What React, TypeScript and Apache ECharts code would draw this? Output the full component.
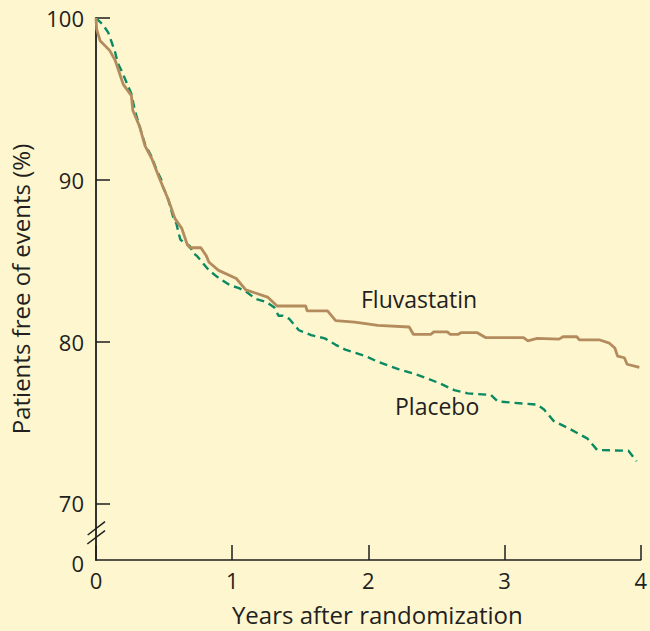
import React, { useEffect, useRef } from "react";
import * as echarts from "echarts";

const xTicks = [0, 1, 2, 3, 4];
const yTickValues = [66.5, 70, 80, 90, 100];
const yTickLabels = ["0", "70", "80", "90", "100"];

const fluvastatin: [number, number][] = [
  [0, 100], [0.005, 99.3], [0.03, 98.6], [0.1, 98.0], [0.14, 97.4], [0.2, 95.9], [0.26, 95.2],
  [0.27, 94.3], [0.32, 93.3], [0.36, 92.1], [0.41, 91.3], [0.47, 90.0], [0.53, 88.8], [0.58, 87.6],
  [0.63, 87.0], [0.67, 86.0], [0.69, 85.8], [0.77, 85.8], [0.81, 85.3], [0.83, 84.9], [0.9, 84.4],
  [1.03, 83.9], [1.1, 83.2], [1.17, 83.0], [1.26, 82.75], [1.33, 82.2], [1.54, 82.2], [1.55, 81.9],
  [1.7, 81.9], [1.76, 81.3], [1.9, 81.2], [2.07, 81.0], [2.3, 80.9], [2.33, 80.45], [2.46, 80.45],
  [2.48, 80.6], [2.58, 80.6], [2.6, 80.45], [2.66, 80.45], [2.68, 80.55], [2.8, 80.55], [2.86, 80.25],
  [3.14, 80.25], [3.17, 80.05], [3.24, 80.2], [3.4, 80.15], [3.43, 80.3], [3.53, 80.3], [3.55, 80.1],
  [3.7, 80.1], [3.77, 79.9], [3.81, 79.6], [3.83, 79.1], [3.88, 79.0], [3.9, 78.6], [3.99, 78.4],
];

const placebo: [number, number][] = [
  [0, 100], [0.05, 99.6], [0.09, 99.1], [0.115, 98.5], [0.14, 97.9], [0.16, 97.2], [0.19, 96.7],
  [0.23, 95.9], [0.26, 95.3], [0.285, 94.3], [0.32, 93.3], [0.36, 92.2], [0.41, 91.4], [0.445, 90.6],
  [0.48, 90.0], [0.49, 89.6], [0.53, 88.8], [0.57, 87.6], [0.59, 87.3], [0.61, 86.6], [0.62, 86.3],
  [0.69, 85.9], [0.71, 85.5], [0.74, 85.3], [0.78, 84.9], [0.83, 84.4], [0.89, 84.0], [0.98, 83.5],
  [1.05, 83.3], [1.1, 83.1], [1.17, 82.65], [1.25, 82.45], [1.31, 82.1], [1.34, 81.6], [1.37, 81.6],
  [1.42, 81.4], [1.49, 80.7], [1.58, 80.4], [1.68, 80.2], [1.76, 79.8], [1.83, 79.5], [1.98, 79.1],
  [2.07, 78.75], [2.22, 78.3], [2.34, 78.0], [2.44, 77.7], [2.53, 77.4], [2.63, 77.0], [2.73, 76.8],
  [2.9, 76.7], [2.95, 76.3], [3.24, 76.1], [3.29, 75.8], [3.36, 75.1], [3.48, 74.6], [3.61, 74.0],
  [3.68, 73.3], [3.91, 73.25], [3.97, 72.6],
];

const FONT = "'Open Sans', 'Noto Sans', sans-serif";
const TEXT = "#231f20";
const AXIS = "#1e1e1e";

export default function App() {
  const ref = useRef<HTMLDivElement>(null);
  useEffect(() => {
    if (!ref.current) return;
    const chart = echarts.init(ref.current, undefined, { renderer: "svg" });
    chart.setOption({
      animation: false,
      backgroundColor: "#fdf6cf",
      grid: { left: 96, right: 6, top: 18, bottom: 69 },
      xAxis: {
        type: "value",
        min: 0,
        max: 4,
        interval: 1,
        name: "Years after randomization",
        nameLocation: "middle",
        nameGap: 42,
        nameTextStyle: { fontFamily: FONT, fontSize: 24, color: TEXT, padding: [0, 0, 0, 18] },
        axisLine: { show: true, lineStyle: { color: AXIS, width: 1.5 } },
        axisTick: { show: true, inside: true, length: 15, lineStyle: { color: AXIS, width: 1.5 } },
        axisLabel: {
          fontFamily: FONT, fontSize: 22, color: TEXT, margin: 9,
          customValues: xTicks,
          formatter: (v: number) => String(v),
        },
        splitLine: { show: false },
      },
      yAxis: {
        type: "value",
        min: 66.5,
        max: 100,
        name: "Patients free of events (%)",
        nameLocation: "middle",
        nameGap: 64,
        nameTextStyle: { fontFamily: FONT, fontSize: 24, color: TEXT },
        axisLine: { show: true, lineStyle: { color: AXIS, width: 1.8 } },
        axisTick: {
          show: true, inside: true, length: 14, lineStyle: { color: AXIS, width: 1.5 },
          customValues: yTickValues.slice(1),
        },
        axisLabel: {
          fontFamily: FONT, fontSize: 22, color: TEXT, margin: 12,
          customValues: yTickValues,
          formatter: (v: number) => {
            const i = yTickValues.indexOf(v);
            if (i === 0) return "{z|" + yTickLabels[0] + "}";
            return i >= 0 ? yTickLabels[i] : "";
          },
          rich: {
            z: { fontFamily: FONT, fontSize: 22, color: TEXT, padding: [6, 0, 0, 0] },
          },
        },
        splitLine: { show: false },
      },
      graphic: [
        {
          type: "line",
          shape: { x1: 87.7, y1: 535, x2: 105, y2: 521.7 },
          style: { stroke: AXIS, lineWidth: 1.5 },
        },
        {
          type: "line",
          shape: { x1: 87.3, y1: 544, x2: 105, y2: 530.7 },
          style: { stroke: AXIS, lineWidth: 1.5 },
        },
        {
          type: "text",
          left: 361,
          top: 287,
          style: { text: "Fluvastatin", font: `23px ${FONT}`, fill: TEXT },
        },
        {
          type: "text",
          left: 395,
          top: 394,
          style: { text: "Placebo", font: `23px ${FONT}`, fill: TEXT },
        },
      ],
      series: [
        {
          name: "Placebo",
          type: "line",
          data: placebo,
          showSymbol: false,
          lineStyle: { color: "#0b8a62", width: 2.4, type: [8, 5] },
          z: 2,
        },
        {
          name: "Fluvastatin",
          type: "line",
          data: fluvastatin,
          showSymbol: false,
          lineStyle: { color: "#b38b5d", width: 2.8 },
          z: 3,
        },
      ],
    });
    return () => chart.dispose();
  }, []);
  return (
    <div
      ref={ref}
      style={{ position: "fixed", left: 0, top: 0, width: 650, height: 631 }}
    />
  );
}
